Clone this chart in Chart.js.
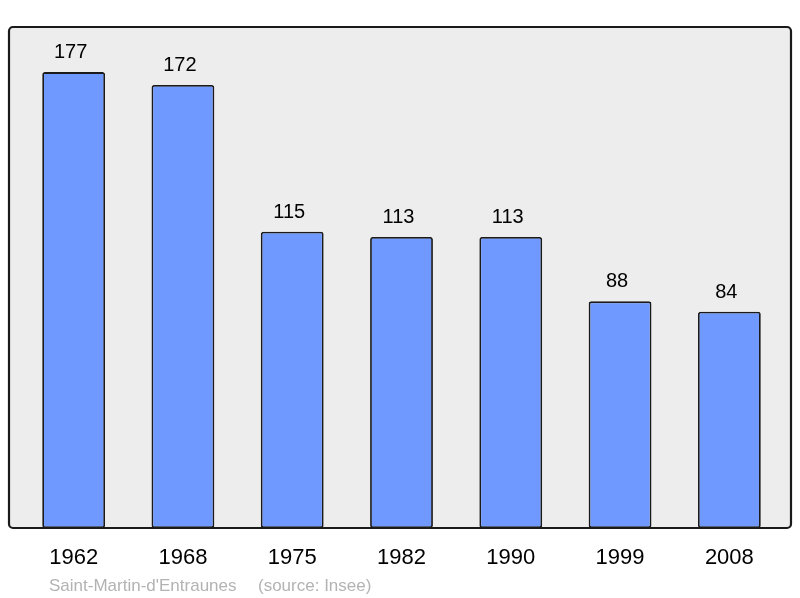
<!DOCTYPE html>
<html>
<head>
<meta charset="utf-8">
<script src="https://cdn.jsdelivr.net/npm/chart.js@4/dist/chart.umd.min.js"></script>
<style>
html,body{margin:0;padding:0;background:#fff;}
#wrap{width:800px;height:598px;position:relative;}
</style>
</head>
<body>
<div id="wrap"><canvas id="c" width="800" height="598"></canvas></div>
<script>
const years = ['1962','1968','1975','1982','1990','1999','2008'];
const population = [177,172,115,113,113,88,84];
const placeName = "Saint-Martin-d'Entraunes";
const sourceName = "(source: Insee)";

const FONT = "'Liberation Sans', Arial, sans-serif";

function roundRect(ctx,x,y,w,h,r){
  ctx.beginPath();
  ctx.moveTo(x+r,y);
  ctx.lineTo(x+w-r,y);
  ctx.arcTo(x+w,y,x+w,y+r,r);
  ctx.lineTo(x+w,y+h-r);
  ctx.arcTo(x+w,y+h,x+w-r,y+h,r);
  ctx.lineTo(x+r,y+h);
  ctx.arcTo(x,y+h,x,y+h-r,r);
  ctx.lineTo(x,y+r);
  ctx.arcTo(x,y,x+r,y,r);
  ctx.closePath();
}

const framePlugin = {
  id:'frame',
  beforeDatasetsDraw(chart){
    const ctx = chart.ctx;
    const a = chart.chartArea;
    ctx.save();
    roundRect(ctx, 9, a.top, 782, a.bottom - a.top, 4);
    ctx.fillStyle = '#ededed';
    ctx.fill();
    ctx.restore();
  },
  afterDatasetsDraw(chart){
    const ctx = chart.ctx;
    const a = chart.chartArea;
    ctx.save();
    roundRect(ctx, 9, a.top, 782, a.bottom - a.top, 4);
    ctx.strokeStyle = '#1a1a1a';
    ctx.lineWidth = 2.2;
    ctx.stroke();
    const meta = chart.getDatasetMeta(0);
    ctx.fillStyle = '#000';
    ctx.font = '20px ' + FONT;
    ctx.textAlign = 'center';
    ctx.textBaseline = 'alphabetic';
    meta.data.forEach((bar,i)=>{
      ctx.fillText(String(population[i]), bar.x - 3, bar.y - 14);
    });
    ctx.fillStyle = '#b3b3b3';
    ctx.font = '17px ' + FONT;
    ctx.textAlign = 'left';
    ctx.fillText(placeName, 49, 591);
    ctx.fillText(sourceName, 258, 591);
    ctx.restore();
  }
};

new Chart(document.getElementById('c'), {
  type:'bar',
  data:{
    labels: years,
    datasets:[{
      data: population,
      backgroundColor:'#7099ff',
      borderColor:'#1a1a1a',
      borderWidth:1.8,
      borderRadius:2.5,
      borderSkipped:false,
      barPercentage:0.575,
      categoryPercentage:1.0
    }]
  },
  options:{
    responsive:false,
    animation:false,
    devicePixelRatio:1,
    layout:{padding:{left:19,right:16,top:27,bottom:0}},
    plugins:{legend:{display:false},tooltip:{enabled:false}},
    scales:{
      y:{display:false,min:0,max:194.5},
      x:{
        grid:{display:false,drawTicks:false},
        border:{display:false},
        ticks:{color:'#000',font:{family:FONT,size:22},padding:17,maxRotation:0},
        afterFit(scale){ scale.height = 70; }
      }
    }
  },
  plugins:[framePlugin]
});
</script>
</body>
</html>
